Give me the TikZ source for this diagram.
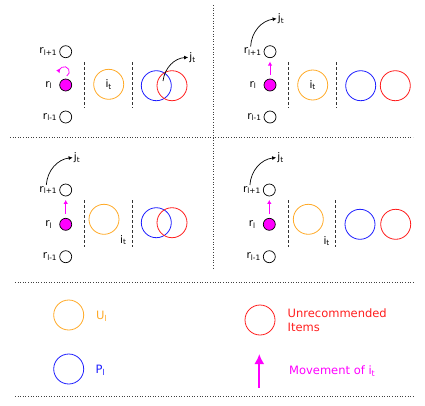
\documentclass[tikz,border=0pt]{standalone}
\usepackage{fontspec}
\setmainfont{DejaVu Sans}
\usetikzlibrary{positioning,arrows.meta}

\definecolor{ucol}{RGB}{255,170,40}
\definecolor{pcol}{RGB}{30,30,255}
\definecolor{ncol}{RGB}{255,30,30}
\definecolor{mcol}{RGB}{255,0,255}

\tikzset{
    dot/.style={draw, circle, line width=0.7pt, minimum size=12pt, inner sep=0pt},
    curdot/.style={dot, fill=mcol},
    lbl/.style={inner sep=1pt, font=\fontsize{10.5}{12}\selectfont},
    ucirc/.style={draw=ucol, circle, line width=0.8pt, minimum size=30pt, inner sep=0pt, font=\fontsize{10.5}{12}\selectfont},
    pcirc/.style={ucirc, draw=pcol},
    ncirc/.style={ucirc, draw=ncol},
    sep/.style={dash pattern=on 3pt off 2pt, line width=0.7pt, black!80},
    divider/.style={dotted, line width=0.6pt, black!75},
    mvarrow/.style={-{Latex[length=4pt,width=4.5pt]}, mcol, line width=0.8pt},
    uparrow/.style={mvarrow, shorten <=4pt, shorten >=3.5pt},
    jump/.style={-{Latex[length=4pt,width=4pt]}, line width=0.7pt, bend left=40},
    legtxt/.style={inner sep=0pt, anchor=west, align=left, font=\fontsize{11.5}{14}\selectfont}
}

\begin{document}
\begin{tikzpicture}[x=1pt,y=-1pt]
    \useasboundingbox (0,0) rectangle (425,405);

    % dividers
    \draw[divider] (213,5) -- (213,270);
    \draw[divider] (10,137.5) -- (413,137.5);
    \draw[divider] (15,282.5) -- (415,282.5);
    \draw[divider] (15,396) -- (415,396);

    % top left
    \node[dot] (a1) at (65.7,51.7) {};
    \node[curdot] (a0) at (65.7,85) {};
    \node[dot] (a2) at (65.7,117) {};
    \node[lbl, left=1pt of a1] (la1) {r\textsubscript{l+1}};
    \node[lbl, left=6pt of a0] (la0) {r\textsubscript{l}};
    \node[lbl, left=1pt of a2] (la2) {r\textsubscript{l-1}};
    \draw[mvarrow] ([shift={(1.1pt,9pt)}]a0.center) arc[start angle=-60, end angle=200, radius=5pt];
    \draw[sep] (84.3,62) -- (84.3,108);
    \node[ucirc] (au) at (108.7,84.3) {i\textsubscript{t}};
    \draw[sep] (132.3,62) -- (132.3,108);
    \node[pcirc] (ap) at (156.3,85.7) {};
    \node[ncirc] (an) at (172,85.7) {};
    \coordinate (ajs) at (163,81);
    \node[lbl] (ajt) at (192.5,57.5) {j\textsubscript{t}};
    \draw[jump] (ajs) to (ajt);

    % top right
    \node[dot] (b1) at (270,51.7) {};
    \node[curdot] (b0) at (270,85) {};
    \node[dot] (b2) at (270,117) {};
    \node[lbl, left=1pt of b1] (lb1) {r\textsubscript{l+1}};
    \node[lbl, left=6pt of b0] (lb0) {r\textsubscript{l}};
    \node[lbl, left=1pt of b2] (lb2) {r\textsubscript{l-1}};
    \draw[uparrow] (b0) -- (b1);
    \draw[sep] (288.7,62) -- (288.7,108);
    \node[ucirc] (bu) at (312.7,85) {i\textsubscript{t}};
    \draw[sep] (336,62) -- (336,108);
    \node[pcirc] (bp) at (360.7,85.7) {};
    \node[ncirc] (bn) at (395.3,85.7) {};
    \node[lbl] (bjt) at (281,18.5) {j\textsubscript{t}};
    \draw[jump] ([xshift=-2pt]lb1.north) to (bjt);

    % bottom left
    \node[dot] (c1) at (65.7,190) {};
    \node[curdot] (c0) at (65.7,224.3) {};
    \node[dot] (c2) at (65.7,256.7) {};
    \node[lbl, left=1pt of c1] (lc1) {r\textsubscript{l+1}};
    \node[lbl, left=6pt of c0] (lc0) {r\textsubscript{l}};
    \node[lbl, left=1pt of c2] (lc2) {r\textsubscript{l-1}};
    \draw[uparrow] (c0) -- (c1);
    \draw[sep] (84.3,200) -- (84.3,246.7);
    \node[ucirc] (cu) at (104,219.3) {};
    \node[lbl] (cit) at (123.3,240) {i\textsubscript{t}};
    \draw[sep] (132.7,200) -- (132.7,246.7);
    \node[pcirc] (cp) at (156.3,222.7) {};
    \node[ncirc] (cn) at (172,222.7) {};
    \node[lbl] (cjt) at (77,157.5) {j\textsubscript{t}};
    \draw[jump] ([xshift=-2pt]lc1.north) to (cjt);

    % bottom right
    \node[dot] (d1) at (269.3,190) {};
    \node[curdot] (d0) at (269.3,224.3) {};
    \node[dot] (d2) at (269.3,256.7) {};
    \node[lbl, left=1pt of d1] (ld1) {r\textsubscript{l+1}};
    \node[lbl, left=6pt of d0] (ld0) {r\textsubscript{l}};
    \node[lbl, left=1pt of d2] (ld2) {r\textsubscript{l-1}};
    \draw[uparrow] (d0) -- (d1);
    \draw[sep] (288.3,200) -- (288.3,246.7);
    \node[ucirc] (du) at (308.3,219.3) {};
    \node[lbl] (dit) at (326.7,241) {i\textsubscript{t}};
    \draw[sep] (335.7,200) -- (335.7,246.7);
    \node[pcirc] (dp) at (360,224.3) {};
    \node[ncirc] (dn) at (395.7,224.3) {};
    \node[lbl] (djt) at (280.5,157.5) {j\textsubscript{t}};
    \draw[jump] ([xshift=-2pt]ld1.north) to (djt);

    % legend
    \node[ucirc] (lgu) at (68.7,315) {};
    \node[legtxt, text=ucol] (lgut) at (96,316.5) {U\textsubscript{l}};
    \node[pcirc] (lgp) at (68.7,369) {};
    \node[legtxt, text=pcol] (lgpt) at (95.5,370.5) {P\textsubscript{l}};
    \node[ncirc] (lgn) at (260,320) {};
    \node[legtxt, text=ncol] (lgnt) at (287.5,320) {Unrecommended\\Items};
    \coordinate (mvs) at (259.3,388);
    \coordinate (mve) at (259.3,354);
    \draw[-{Latex[length=10pt,width=10pt]}, mcol, line width=1.8pt] (mvs) -- (mve);
    \node[legtxt, text=mcol] (lgmt) at (289,371) {Movement of i\textsubscript{t}};
\end{tikzpicture}
\end{document}
